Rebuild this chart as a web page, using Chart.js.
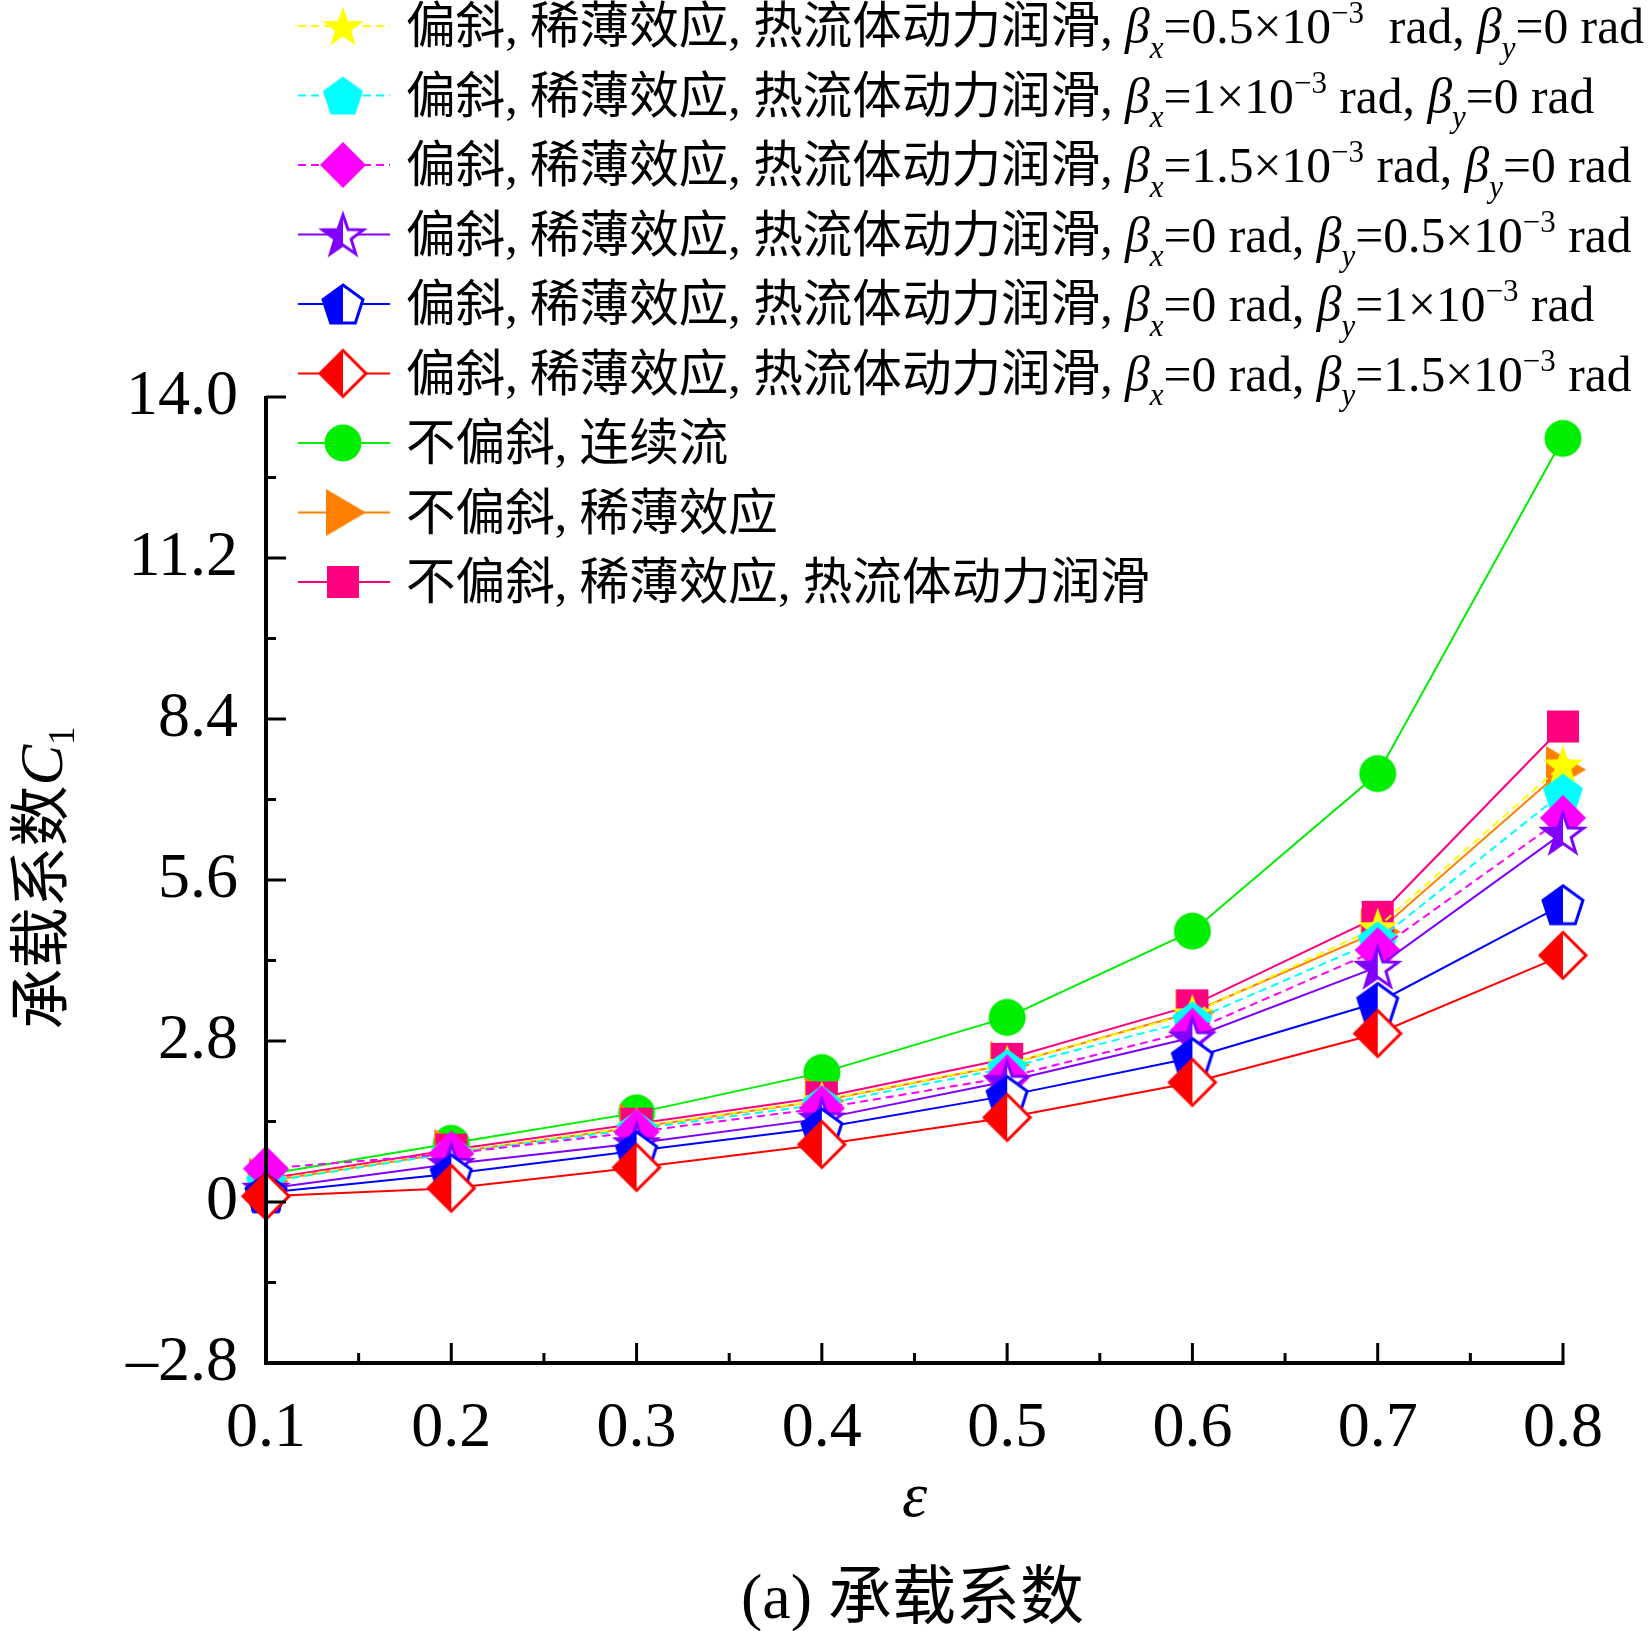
<!DOCTYPE html>
<html>
<head>
<meta charset="utf-8">
<script src="https://cdn.jsdelivr.net/npm/chart.js@4.4.1/dist/chart.umd.min.js"></script>
<style>
html,body{margin:0;padding:0;background:#fff;}
#wrap{width:1651px;height:1631px;position:relative;}
</style>
</head>
<body>
<div id="wrap"><canvas id="c" width="1651" height="1631"></canvas></div>
<script>
// ---------------- data ----------------
const epsilon = [0.1, 0.2, 0.3, 0.4, 0.5, 0.6, 0.7, 0.8];
const skewBx05 = [0.37, 0.87, 1.31, 1.77, 2.40, 3.28, 4.78, 7.61];
const skewBx10 = [0.35, 0.85, 1.27, 1.70, 2.33, 3.16, 4.55, 7.12];
const skewBx15 = [0.58, 0.84, 1.22, 1.63, 2.17, 2.98, 4.38, 6.68];
const skewBy05 = [0.23, 0.66, 1.02, 1.45, 2.10, 2.86, 4.09, 6.42];
const skewBy10 = [0.16, 0.49, 0.89, 1.29, 1.85, 2.51, 3.47, 5.17];
const skewBy15 = [0.10, 0.24, 0.60, 1.00, 1.47, 2.08, 2.93, 4.29];
const noSkewContinuum = [0.48, 1.02, 1.55, 2.25, 3.21, 4.71, 7.45, 13.28];
const noSkewRarefied = [0.36, 0.86, 1.30, 1.76, 2.39, 3.30, 4.70, 7.52];
const noSkewRarefiedThd = [0.40, 0.91, 1.36, 1.82, 2.49, 3.42, 4.96, 8.27];

const seriesLabels = [
  "偏斜, 稀薄效应, 热流体动力润滑, β_{x}=0.5×10^{−3}  rad, β_{y}=0 rad",
  "偏斜, 稀薄效应, 热流体动力润滑, β_{x}=1×10^{−3} rad, β_{y}=0 rad",
  "偏斜, 稀薄效应, 热流体动力润滑, β_{x}=1.5×10^{−3} rad, β_{y}=0 rad",
  "偏斜, 稀薄效应, 热流体动力润滑, β_{x}=0 rad, β_{y}=0.5×10^{−3} rad",
  "偏斜, 稀薄效应, 热流体动力润滑, β_{x}=0 rad, β_{y}=1×10^{−3} rad",
  "偏斜, 稀薄效应, 热流体动力润滑, β_{x}=0 rad, β_{y}=1.5×10^{−3} rad",
  "不偏斜, 连续流",
  "不偏斜, 稀薄效应",
  "不偏斜, 稀薄效应, 热流体动力润滑"
];
const seriesValues = [skewBx05, skewBx10, skewBx15, skewBy05, skewBy10, skewBy15,
  noSkewContinuum, noSkewRarefied, noSkewRarefiedThd];

const yTickValues = [-2.8, 0, 2.8, 5.6, 8.4, 11.2, 14.0];
const yTickLabels = ["\u20132.8", "0", "2.8", "5.6", "8.4", "11.2", "14.0"];
const xTickValues = [0.1, 0.2, 0.3, 0.4, 0.5, 0.6, 0.7, 0.8];
const xTickLabels = ["0.1", "0.2", "0.3", "0.4", "0.5", "0.6", "0.7", "0.8"];
const xTitle = "ε";
const yTitleMain = "承载系数";
const yTitleSym = "C";
const yTitleSub = "1";
const caption = "(a) 承载系数";

// ---------------- styles ----------------
const styles = [
  {color: "#FFFF00", shape: "star", fill: "full", dash: [8, 5], order: 5},
  {color: "#00FFFF", shape: "pentagon", fill: "full", dash: [8, 5], order: 4},
  {color: "#FF00FF", shape: "diamond", fill: "full", dash: [8, 5], order: 3},
  {color: "#8000FF", shape: "star", fill: "half", dash: [], order: 2},
  {color: "#0000FF", shape: "pentagon", fill: "half", dash: [], order: 1},
  {color: "#FF0000", shape: "diamond", fill: "half", dash: [], order: 0},
  {color: "#00EE00", shape: "circle", fill: "full", dash: [], order: 8},
  {color: "#FF8000", shape: "triangle", fill: "full", dash: [], order: 7},
  {color: "#FF0080", shape: "square", fill: "full", dash: [], order: 6}
];

function shapePath(ctx, shape, cx, cy) {
  ctx.beginPath();
  if (shape === "star") {
    const R = 21.5, r = R * 0.40;
    const cyy = cy + 2;
    for (let i = 0; i < 10; i++) {
      const a = -Math.PI / 2 + i * Math.PI / 5;
      const rr = i % 2 === 0 ? R : r;
      const px = cx + rr * Math.cos(a), py = cyy + rr * Math.sin(a);
      if (i === 0) ctx.moveTo(px, py); else ctx.lineTo(px, py);
    }
  } else if (shape === "pentagon") {
    const R = 21;
    const cyy = cy + 2;
    for (let i = 0; i < 5; i++) {
      const a = -Math.PI / 2 + i * 2 * Math.PI / 5;
      const px = cx + R * Math.cos(a), py = cyy + R * Math.sin(a);
      if (i === 0) ctx.moveTo(px, py); else ctx.lineTo(px, py);
    }
  } else if (shape === "diamond") {
    ctx.moveTo(cx, cy - 23); ctx.lineTo(cx + 23, cy); ctx.lineTo(cx, cy + 23); ctx.lineTo(cx - 23, cy);
  } else if (shape === "circle") {
    ctx.arc(cx, cy, 18.5, 0, Math.PI * 2);
  } else if (shape === "triangle") {
    ctx.moveTo(cx - 17, cy - 23.5); ctx.lineTo(cx + 23, cy); ctx.lineTo(cx - 17, cy + 23.5);
  } else if (shape === "square") {
    ctx.rect(cx - 16, cy - 16, 32, 32);
  }
  ctx.closePath();
}

function makeMarker(st) {
  const S = 60;
  const cv = document.createElement("canvas");
  cv.width = S; cv.height = S;
  const ctx = cv.getContext("2d");
  const c = S / 2;
  if (st.fill === "full") {
    shapePath(ctx, st.shape, c, c);
    ctx.fillStyle = st.color; ctx.fill();
  } else {
    shapePath(ctx, st.shape, c, c);
    ctx.fillStyle = "#FFFFFF"; ctx.fill();
    ctx.save();
    ctx.beginPath(); ctx.rect(0, 0, c, S); ctx.clip();
    shapePath(ctx, st.shape, c, c);
    ctx.fillStyle = st.color; ctx.fill();
    ctx.restore();
    shapePath(ctx, st.shape, c, c);
    ctx.lineWidth = 3; ctx.strokeStyle = st.color; ctx.lineJoin = "miter"; ctx.stroke();
  }
  return cv;
}
const markers = styles.map(makeMarker);

const datasets = seriesValues.map((vals, i) => ({
  label: seriesLabels[i],
  data: epsilon.map((e, k) => ({x: e, y: vals[k]})),
  borderColor: styles[i].color,
  backgroundColor: styles[i].color,
  borderWidth: 2,
  borderDash: styles[i].dash,
  pointStyle: markers[i],
  pointRadius: 12,
  pointHoverRadius: 12,
  tension: 0,
  fill: false,
  clip: false,
  order: styles[i].order
}));

// ---------------- rich text ----------------
const SERIF = '"Liberation Serif", "Times New Roman", "Noto Sans CJK SC", serif';
function parseRich(str) {
  const segs = [];
  let i = 0, buf = "";
  const flush = () => { if (buf) { pushNormal(buf); buf = ""; } };
  function pushNormal(t) {
    let cur = "";
    for (const ch of t) {
      if (ch === "β") { if (cur) segs.push({t: cur, k: "n"}); cur = ""; segs.push({t: ch, k: "i"}); }
      else cur += ch;
    }
    if (cur) segs.push({t: cur, k: "n"});
  }
  while (i < str.length) {
    if ((str[i] === "_" || str[i] === "^") && str[i + 1] === "{") {
      flush();
      const end = str.indexOf("}", i);
      segs.push({t: str.slice(i + 2, end), k: str[i] === "_" ? "sub" : "sup"});
      i = end + 1;
    } else { buf += str[i]; i++; }
  }
  flush();
  return segs;
}
function drawRich(ctx, str, x, baseY, F) {
  const segs = parseRich(str);
  ctx.textBaseline = "alphabetic";
  ctx.textAlign = "left";
  let cx = x;
  for (const s of segs) {
    let font, dy = 0;
    if (s.k === "n") font = `${F}px ${SERIF}`;
    else if (s.k === "i") font = `italic ${F}px ${SERIF}`;
    else if (s.k === "sub") { font = `italic ${Math.round(F * 0.62)}px ${SERIF}`; dy = F * 0.30; }
    else { font = `${Math.round(F * 0.62)}px ${SERIF}`; dy = -F * 0.40; }
    ctx.font = font;
    ctx.fillText(s.t, cx, baseY + dy);
    cx += ctx.measureText(s.t).width;
  }
  return cx - x;
}

// ---------------- plugins ----------------
const axesPlugin = {
  id: "axesPlugin",
  afterDraw(chart) {
    const ctx = chart.ctx;
    const xs = chart.scales.x, ys = chart.scales.y;
    const L = xs.getPixelForValue(xTickValues[0]);
    const R = xs.getPixelForValue(xTickValues[xTickValues.length - 1]);
    const T = ys.getPixelForValue(yTickValues[yTickValues.length - 1]);
    const B = ys.getPixelForValue(yTickValues[0]);
    ctx.save();
    ctx.strokeStyle = "#000"; ctx.lineCap = "butt";
    ctx.lineWidth = 4;
    ctx.beginPath();
    ctx.moveTo(L, T - 1); ctx.lineTo(L, B + 2);
    ctx.moveTo(L - 2, B); ctx.lineTo(R + 1.5, B);
    ctx.stroke();
    ctx.lineWidth = 3;
    ctx.beginPath();
    yTickValues.forEach((v, i) => {
      const y = ys.getPixelForValue(v);
      ctx.moveTo(L, y); ctx.lineTo(L + 20, y);
      if (i < yTickValues.length - 1) {
        const ym = ys.getPixelForValue((v + yTickValues[i + 1]) / 2);
        ctx.moveTo(L, ym); ctx.lineTo(L + 10, ym);
      }
    });
    xTickValues.forEach((v, i) => {
      const x = xs.getPixelForValue(v);
      ctx.moveTo(x, B); ctx.lineTo(x, B - 20);
      if (i < xTickValues.length - 1) {
        const xm = xs.getPixelForValue((v + xTickValues[i + 1]) / 2);
        ctx.moveTo(xm, B); ctx.lineTo(xm, B - 10);
      }
    });
    ctx.stroke();

    // axis titles
    ctx.fillStyle = "#000";
    ctx.textAlign = "center"; ctx.textBaseline = "alphabetic";
    ctx.font = `italic 64px ${SERIF}`;
    ctx.fillText(xTitle, (L + R) / 2, 1516);
    ctx.font = `64px ${SERIF}`;
    ctx.fillText(caption, (L + R) / 2 - 2, 1618);

    // y title rotated
    ctx.save();
    ctx.translate(62, 878);
    ctx.rotate(-Math.PI / 2);
    const F = 61;
    ctx.font = `${F}px ${SERIF}`;
    const w1 = ctx.measureText(yTitleMain).width;
    ctx.font = `italic ${F}px ${SERIF}`;
    const w2 = ctx.measureText(yTitleSym).width;
    ctx.font = `${Math.round(F * 0.6)}px ${SERIF}`;
    const w3 = ctx.measureText(yTitleSub).width;
    let sx = -(w1 + w2 + w3) / 2;
    ctx.textAlign = "left";
    ctx.font = `${F}px ${SERIF}`;
    ctx.fillText(yTitleMain, sx, 0); sx += w1;
    ctx.font = `italic ${F}px ${SERIF}`;
    ctx.fillText(yTitleSym, sx, 0); sx += w2;
    ctx.font = `${Math.round(F * 0.6)}px ${SERIF}`;
    ctx.fillText(yTitleSub, sx, 12);
    ctx.restore();

    // legend
    const F2 = 49.6;
    chart.data.datasets.forEach((ds, i) => {
      const y = 26 + i * 69.5;
      ctx.save();
      ctx.strokeStyle = ds.borderColor; ctx.lineWidth = 2;
      ctx.setLineDash(ds.borderDash || []);
      ctx.beginPath(); ctx.moveTo(298, y); ctx.lineTo(390, y); ctx.stroke();
      ctx.restore();
      const m = ds.pointStyle;
      ctx.drawImage(m, 343 - m.width / 2, y - m.height / 2);
      ctx.fillStyle = "#000";
      drawRich(ctx, ds.label, 406, y + 17, F2);
    });
    ctx.restore();
  }
};

new Chart(document.getElementById("c"), {
  type: "line",
  data: {datasets},
  options: {
    responsive: false,
    devicePixelRatio: 1,
    animation: false,
    events: [],
    layout: {padding: {left: 0, top: 397, right: 88, bottom: 0}},
    plugins: {legend: {display: false}, tooltip: {enabled: false}, title: {display: false}},
    scales: {
      x: {
        type: "linear", min: 0.1, max: 0.8,
        afterFit(s) { s.height = 268; },
        afterBuildTicks(s) { s.ticks = xTickValues.map(v => ({value: v})); },
        grid: {display: false, drawTicks: false, tickLength: 0},
        border: {display: false},
        ticks: {
          color: "#000", padding: 28, maxRotation: 0, autoSkip: false,
          font: {family: SERIF, size: 64},
          callback: (v, idx) => xTickLabels[idx]
        }
      },
      y: {
        type: "linear", min: -2.8, max: 14.0,
        afterFit(s) { s.width = 266; },
        afterBuildTicks(s) { s.ticks = yTickValues.map(v => ({value: v})); },
        grid: {display: false, drawTicks: false, tickLength: 0},
        border: {display: false},
        ticks: {
          color: "#000", padding: 28, autoSkip: false,
          font: {family: SERIF, size: 64},
          callback: (v, idx) => yTickLabels[idx]
        }
      }
    }
  },
  plugins: [axesPlugin]
});
</script>
</body>
</html>
